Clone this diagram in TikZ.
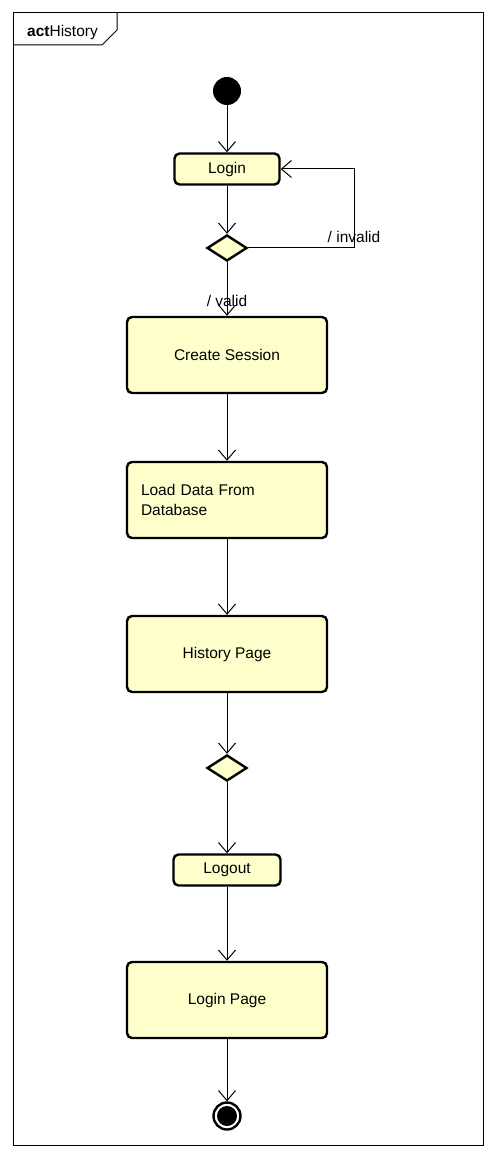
\documentclass[tikz,border=0pt]{standalone}
\usepackage{fontspec}
\setmainfont{Liberation Sans}
\usepackage{tikz}
\usetikzlibrary{positioning, shapes.geometric, arrows.meta}
\definecolor{actfill}{RGB}{255,255,204}
\tikzset{font=\fontsize{15.5}{20}\selectfont}
\tikzstyle{point}  = [coordinate]
\tikzstyle{block}  = [draw, rectangle, rounded corners=5pt, fill=actfill, line width=2.4pt, minimum width=200pt, minimum height=76pt, inner sep=0pt]
\tikzstyle{small}  = [block, minimum height=31pt]
\tikzstyle{choice} = [draw, diamond, fill=actfill, line width=2.4pt, minimum width=40pt, minimum height=26pt, inner sep=0pt]
\tikzstyle{flow}   = [->, line width=1pt]

\begin{document}
\begin{tikzpicture}[x=1pt, y=-1pt, >={Straight Barb[length=10pt, width=17pt]}]
	\useasboundingbox (0,0) rectangle (496,1158);
	% frame
	\draw [line width=1pt] (13,13) rectangle (483,1145);
	\draw [line width=1pt] (13,45) -- (102,45) -- (117,30) -- (117,13);
	\node [anchor=west, inner sep=0pt] (title) at (27,32) {\textbf{act}History};

	\node [circle, fill=black, minimum size=28pt, inner sep=0pt] (start) at (227,91) {};
	\node [small, minimum width=105pt, below of=start, node distance=78pt] (login) {Login};
	\node [choice, below of=login, node distance=79pt] (dec1) {};
	\node [point, right of=dec1, node distance=127pt] (bend) {};
	\node [block, below of=dec1, node distance=107pt] (session) {Create Session};
	\node [block, below of=session, node distance=145pt, text width=172pt, align=left, inner sep=14pt] (load) {Load Data From\\Database};
	\node [block, below of=load, node distance=154pt] (history) {History Page};
	\node [choice, below of=history, node distance=114pt] (dec2) {};
	\node [small, minimum width=107pt, below of=dec2, node distance=102pt] (logout) {Logout};
	\node [block, below of=logout, node distance=130pt] (loginpage) {Login Page};
	\node [circle, draw, line width=2.4pt, minimum size=27pt, inner sep=0pt, below of=loginpage, node distance=116pt] (end) {};
	\fill (end) circle (10pt);

	\draw [flow] (start) -- (login);
	\draw [flow] (login) -- (dec1);
	\draw [flow] (dec1) -- node[pos=1, above=2pt] {/ invalid} (bend) |- (login);
	\draw [flow] (dec1) -- node[pos=0.73] {/ valid} (session);
	\draw [flow] (session) -- (load);
	\draw [flow] (load) -- (history);
	\draw [flow] (history) -- (dec2);
	\draw [flow] (dec2) -- (logout);
	\draw [flow] (logout) -- (loginpage);
	\draw [flow] (loginpage) -- (end);
\end{tikzpicture}
\end{document}
